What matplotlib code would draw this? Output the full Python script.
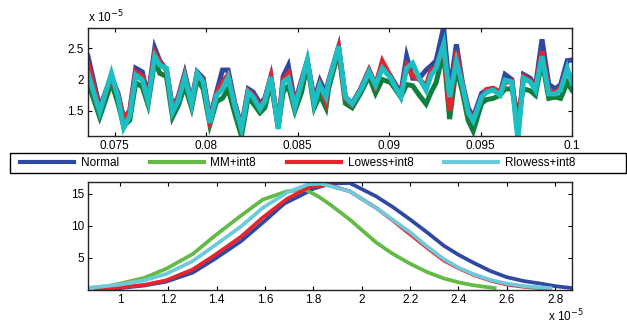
import matplotlib
matplotlib.use("Agg")
import matplotlib.pyplot as plt
from matplotlib.lines import Line2D
from matplotlib.patches import Rectangle

plt.rcParams['font.family'] = ['Liberation Sans', 'DejaVu Sans']

# ---------------- top panel data (values in units of 1e-5) ----------------
t = [0.07354, 0.07418, 0.07482, 0.07518, 0.07549, 0.07582, 0.07615, 0.07651, 0.07682, 0.07719,
     0.07746, 0.07783, 0.07816, 0.07847, 0.07883, 0.07920, 0.07951, 0.07984, 0.08020, 0.08057,
     0.08089, 0.08120, 0.08157, 0.08193, 0.08230, 0.08257, 0.08294, 0.08321, 0.08354, 0.08394,
     0.08421, 0.08449, 0.08485, 0.08522, 0.08553, 0.08591, 0.08622, 0.08655,
     0.08669, 0.08724, 0.08761, 0.08798, 0.08844, 0.08890, 0.08926, 0.08963, 0.09009, 0.09064,
     0.09096, 0.09129, 0.09165, 0.09202, 0.09230, 0.09257, 0.09298, 0.09331, 0.09368, 0.09401,
     0.09432, 0.09460, 0.09506, 0.09533, 0.09570, 0.09607, 0.09634, 0.09671, 0.09704, 0.09735,
     0.09772, 0.09800, 0.09836, 0.09873, 0.09910, 0.09938, 0.09974, 0.10000]

top_normal = [2.37, 1.55, 2.05, 1.78, 1.38, 1.50, 2.18, 2.12, 1.72, 2.50,
              2.30, 2.15, 1.55, 1.72, 2.10, 1.65, 2.12, 2.02, 1.38, 1.80,
              2.15, 2.15, 1.62, 1.25, 1.85, 1.80, 1.62, 1.70, 2.05, 1.25,
              2.05, 2.22, 1.62, 2.00, 2.30, 1.68, 1.98, 1.78,
              1.98, 2.52, 1.72, 1.62, 1.85, 2.15, 1.92, 2.22, 2.05, 1.78,
              2.37, 2.02, 2.02, 2.15, 2.22, 2.30, 2.83, 1.80, 2.56, 1.95,
              1.55, 1.40, 1.78, 1.83, 1.85, 1.78, 2.08, 2.00, 1.20, 2.08,
              2.02, 1.88, 2.64, 1.92, 1.85, 1.92, 2.30, 2.31]

top_mm = [1.95, 1.40, 1.95, 1.62, 1.26, 1.35, 1.95, 1.88, 1.60, 2.30,
          2.10, 2.05, 1.40, 1.58, 1.90, 1.55, 2.00, 1.85, 1.28, 1.65,
          1.70, 1.85, 1.45, 1.10, 1.72, 1.62, 1.47, 1.55, 1.95, 1.25,
          1.80, 1.90, 1.50, 1.80, 2.25, 1.55, 1.75, 1.55,
          1.85, 2.45, 1.62, 1.55, 1.78, 2.05, 1.78, 2.00, 1.95, 1.72,
          1.92, 1.90, 1.75, 1.61, 1.80, 1.95, 2.45, 1.37, 2.20, 1.80,
          1.35, 1.18, 1.62, 1.68, 1.70, 1.75, 1.85, 1.85, 1.45, 1.85,
          1.82, 1.75, 2.30, 1.70, 1.72, 1.70, 1.95, 1.83]

top_lowess = [2.25, 1.52, 2.05, 1.75, 1.38, 1.48, 2.12, 2.05, 1.70, 2.42,
              2.28, 2.15, 1.52, 1.70, 2.07, 1.63, 2.10, 1.98, 1.35, 1.78,
              1.95, 2.08, 1.60, 1.23, 1.82, 1.75, 1.57, 1.68, 2.04, 1.23,
              2.00, 2.10, 1.58, 1.98, 2.28, 1.65, 1.92, 1.65,
              1.95, 2.50, 1.70, 1.60, 1.84, 2.14, 1.90, 2.29, 2.04, 1.74,
              2.22, 2.06, 2.00, 1.90, 2.15, 2.20, 2.55, 1.50, 2.45, 1.90,
              1.50, 1.37, 1.70, 1.84, 1.86, 1.80, 1.95, 1.98, 1.15, 2.05,
              1.98, 1.86, 2.45, 1.80, 1.80, 1.86, 2.15, 1.98]

top_rlowess = [2.10, 1.48, 2.10, 1.72, 1.23, 1.42, 2.07, 1.99, 1.66, 2.37,
               2.23, 2.18, 1.48, 1.66, 2.04, 1.61, 2.10, 1.96, 1.31, 1.75,
               1.85, 2.04, 1.58, 1.21, 1.80, 1.72, 1.53, 1.66, 2.04, 1.21,
               1.96, 2.02, 1.56, 1.96, 2.31, 1.61, 1.91, 1.72,
               1.94, 2.53, 1.72, 1.61, 1.83, 2.12, 1.91, 2.18, 2.02, 1.72,
               2.18, 2.26, 2.02, 1.83, 2.07, 2.18, 2.56, 1.72, 2.29, 1.91,
               1.48, 1.34, 1.72, 1.80, 1.83, 1.75, 1.99, 1.96, 1.04, 2.02,
               1.96, 1.83, 2.37, 1.77, 1.77, 1.83, 2.18, 1.94]

# ---------------- bottom panel data (density curves, x in 1e-5) ----------------
n_x = [0.90, 1.00, 1.10, 1.19, 1.30, 1.39, 1.50, 1.59, 1.68, 1.75, 1.80, 1.87, 1.95,
       2.06, 2.13, 2.20, 2.27, 2.34, 2.40, 2.46, 2.53, 2.60, 2.67, 2.74, 2.80, 2.87]
n_y = [0.1, 0.3, 0.7, 1.3, 2.7, 4.8, 7.6, 10.5, 13.5, 14.8, 15.8, 16.6, 16.7,
       14.6, 12.9, 11.0, 9.0, 6.9, 5.5, 4.3, 3.0, 2.0, 1.4, 1.0, 0.6, 0.3]

mm_x = [0.867, 0.95, 1.00, 1.10, 1.19, 1.30, 1.39, 1.50, 1.59, 1.69, 1.77, 1.82, 1.87,
        1.95, 2.06, 2.13, 2.20, 2.27, 2.34, 2.40, 2.46, 2.55]
mm_y = [0.3, 0.6, 1.0, 1.9, 3.3, 5.6, 8.4, 11.6, 14.1, 15.4, 15.6, 14.6, 13.3,
        11.0, 7.4, 5.6, 4.1, 2.8, 1.8, 1.2, 0.75, 0.3]

lo_x = [0.90, 1.00, 1.10, 1.19, 1.30, 1.39, 1.50, 1.59, 1.69, 1.78, 1.86, 1.95,
        2.06, 2.13, 2.20, 2.27, 2.34, 2.40, 2.46, 2.53, 2.60, 2.67, 2.74, 2.78]
lo_y = [0.1, 0.4, 0.8, 1.5, 3.2, 5.4, 8.3, 11.3, 14.2, 16.0, 16.4, 15.4,
        12.8, 10.8, 8.7, 6.6, 4.6, 3.4, 2.4, 1.5, 0.85, 0.5, 0.3, 0.2]

rl_x = [0.867, 1.00, 1.10, 1.19, 1.30, 1.39, 1.50, 1.59, 1.69, 1.78, 1.83, 1.95,
        2.06, 2.13, 2.20, 2.27, 2.34, 2.40, 2.46, 2.53, 2.60, 2.67, 2.74, 2.78]
rl_y = [0.3, 0.85, 1.5, 2.5, 4.5, 6.9, 9.9, 12.8, 15.2, 16.5, 16.6, 15.4,
        12.8, 10.9, 9.0, 6.8, 4.8, 3.5, 2.5, 1.6, 1.0, 0.6, 0.4, 0.3]

labels = ['Normal', 'MM+int8', 'Lowess+int8', 'Rlowess+int8']
top_colors = ['#2F49A3', '#0F7F3B', '#E8232B', '#19BFC2']
bot_colors = ['#2F49A3', '#63BA45', '#E8232B', '#6DCADC']

xticks_top = [0.075, 0.08, 0.085, 0.09, 0.095, 0.1]
xticklabels_top = ['0.075', '0.08', '0.085', '0.09', '0.095', '0.1']
yticks_top = [1.5, 2.0, 2.5]
yticklabels_top = ['1.5', '2', '2.5']
xticks_bot = [1.0, 1.2, 1.4, 1.6, 1.8, 2.0, 2.2, 2.4, 2.6, 2.8]
xticklabels_bot = ['1', '1.2', '1.4', '1.6', '1.8', '2', '2.2', '2.4', '2.6', '2.8']
yticks_bot = [5, 10, 15]
yticklabels_bot = ['5', '10', '15']

W, H = 627, 324
fig = plt.figure(figsize=(W / 100, H / 100), dpi=100)

def ax_rect(l, t_, r, b):
    return [l / W, 1 - b / H, (r - l) / W, (b - t_) / H]

def style(ax):
    ax.tick_params(direction='in', top=True, right=True, labelsize=8.5,
                   length=3, width=0.8, pad=3, colors='black')
    for s in ax.spines.values():
        s.set_linewidth(1.0)
        s.set_color('#222222')

ax1 = fig.add_axes(ax_rect(88, 28, 572, 136))
for y, c in zip([top_normal, top_mm, top_lowess, top_rlowess], top_colors):
    ax1.plot(t, y, color=c, lw=3.6, solid_joinstyle='miter')
ax1.set_xlim(0.07354, 0.1)
ax1.set_ylim(1.10, 2.82)
ax1.set_xticks(xticks_top)
ax1.set_xticklabels(xticklabels_top)
ax1.set_yticks(yticks_top)
ax1.set_yticklabels(yticklabels_top)
style(ax1)
fig.text(88 / W, 1 - 22 / H, r'x 10$^{-5}$', fontsize=8.5, ha='left', va='baseline')

ax2 = fig.add_axes(ax_rect(88, 182, 572, 290))
for (x, y), c in zip([(n_x, n_y), (mm_x, mm_y), (lo_x, lo_y), (rl_x, rl_y)], bot_colors):
    ax2.plot(x, y, color=c, lw=2.7)
ax2.set_xlim(0.867, 2.87)
ax2.set_ylim(0, 16.85)
ax2.set_xticks(xticks_bot)
ax2.set_xticklabels(xticklabels_bot)
ax2.set_yticks(yticks_bot)
ax2.set_yticklabels(yticklabels_bot)
style(ax2)
fig.text(548 / W, 1 - 321 / H, r'x 10$^{-5}$', fontsize=8.5, ha='left', va='baseline')

# legend box (frame drawn separately, entries left-aligned inside)
fig.patches.append(Rectangle((10 / W, 1 - 173 / H), 616 / W, 20 / H,
                             transform=fig.transFigure, fill=False,
                             edgecolor='black', linewidth=1.0))
handles = [Line2D([], [], color=c, lw=3) for c in bot_colors]
leg = fig.legend(handles, labels, loc='center left',
                 bbox_to_anchor=(20 / W, 1 - 163 / H),
                 ncol=4, fontsize=8.5, frameon=False,
                 handlelength=4.6, handletextpad=0.55, columnspacing=2.6,
                 borderaxespad=0, borderpad=0)

fig.savefig('out.png', dpi=100)
